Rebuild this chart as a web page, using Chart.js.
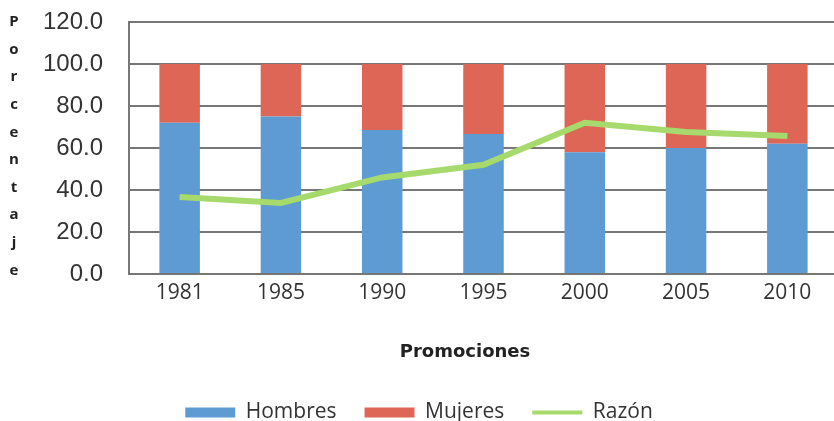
<!DOCTYPE html>
<html>
<head>
<meta charset="utf-8">
<script src="https://cdn.jsdelivr.net/npm/chart.js@4.4.0/dist/chart.umd.min.js"></script>
<style>
  html, body { margin: 0; padding: 0; background: #fff; overflow: hidden; }
  #wrap { width: 838px; height: 421px; }
</style>
</head>
<body>
<div id="wrap"><canvas id="myChart" width="838" height="421"></canvas></div>
<script>
// data
var promociones = ['1981', '1985', '1990', '1995', '2000', '2005', '2010'];
var hombres = [72, 75, 68.6, 66.7, 58, 60, 62];
var mujeres = [28, 25, 31.4, 33.3, 42, 40, 38];
var razon = [36.7, 33.8, 46, 52, 72, 67.6, 65.7];
var yTitle = 'Porcentaje';
var xTitle = 'Promociones';

// draws the stacked y title and the x title
var titles = {
  id: 'titles',
  afterDraw: function (chart) {
    var c = chart.ctx;
    c.save();
    c.fillStyle = '#222';
    c.textAlign = 'center';
    c.textBaseline = 'middle';
    c.font = 'bold 15px "Open Sans"';
    for (var i = 0; i < yTitle.length; i++) {
      c.fillText(yTitle[i], 14, 22 + i * 27.6);
    }
    c.font = 'bold 18px "DejaVu Sans"';
    c.fillText(xTitle, 465, 352);
    c.restore();
  }
};

var ctx = document.getElementById('myChart').getContext('2d');
var chart = new Chart(ctx, {
  type: 'bar',
  data: {
    labels: promociones,
    datasets: [{
      label: 'Hombres',
      data: hombres,
      backgroundColor: '#5E9BD3',
      stack: 'g',
      order: 1,
      pointStyle: 'rect'
    }, {
      label: 'Mujeres',
      data: mujeres,
      backgroundColor: '#DD6656',
      stack: 'g',
      order: 1,
      pointStyle: 'rect'
    }, {
      type: 'line',
      label: 'Razón',
      data: razon,
      borderColor: '#A6DA6C',
      backgroundColor: '#A6DA6C',
      borderWidth: 6,
      pointRadius: 0,
      tension: 0,
      stack: 'r',
      order: 0,
      pointStyle: 'line'
    }]
  },
  options: {
    responsive: false,
    animation: false,
    layout: {
      padding: { top: 22, right: 0, bottom: -12, left: 0 }
    },
    datasets: {
      bar: { categoryPercentage: 1, barPercentage: 0.4 }
    },
    scales: {
      x: {
        stacked: true,
        grid: { display: false, drawTicks: false },
        border: { color: '#777', width: 2 },
        ticks: {
          padding: 6,
          color: '#333',
          font: { family: '"Open Sans"', size: 21 }
        },
        afterFit: function (scale) { scale.height = 100; }
      },
      y: {
        stacked: true,
        min: 0,
        max: 120,
        grid: { color: '#777', lineWidth: 2, drawTicks: true, tickLength: 22, tickColor: 'transparent' },
        border: { color: '#777', width: 2 },
        ticks: {
          stepSize: 20,
          padding: 4,
          color: '#333',
          font: { family: '"Liberation Sans"', size: 24 },
          callback: function (v) { return v.toFixed(1); }
        },
        afterFit: function (scale) { scale.width = 129; }
      }
    },
    plugins: {
      tooltip: { enabled: false },
      legend: {
        position: 'bottom',
        labels: {
          usePointStyle: true,
          pointStyleWidth: 50,
          boxHeight: 10,
          padding: 28,
          color: '#333',
          font: { family: '"Open Sans"', size: 21 },
          sort: function (a, b) { return a.datasetIndex - b.datasetIndex; },
          generateLabels: function (chart) {
            var items = Chart.defaults.plugins.legend.labels.generateLabels(chart);
            items.forEach(function (it) {
              if (it.pointStyle === 'line') { it.lineWidth = 4; } else { it.lineWidth = 0; }
            });
            return items;
          }
        }
      }
    }
  },
  plugins: [titles]
});
</script>
</body>
</html>
